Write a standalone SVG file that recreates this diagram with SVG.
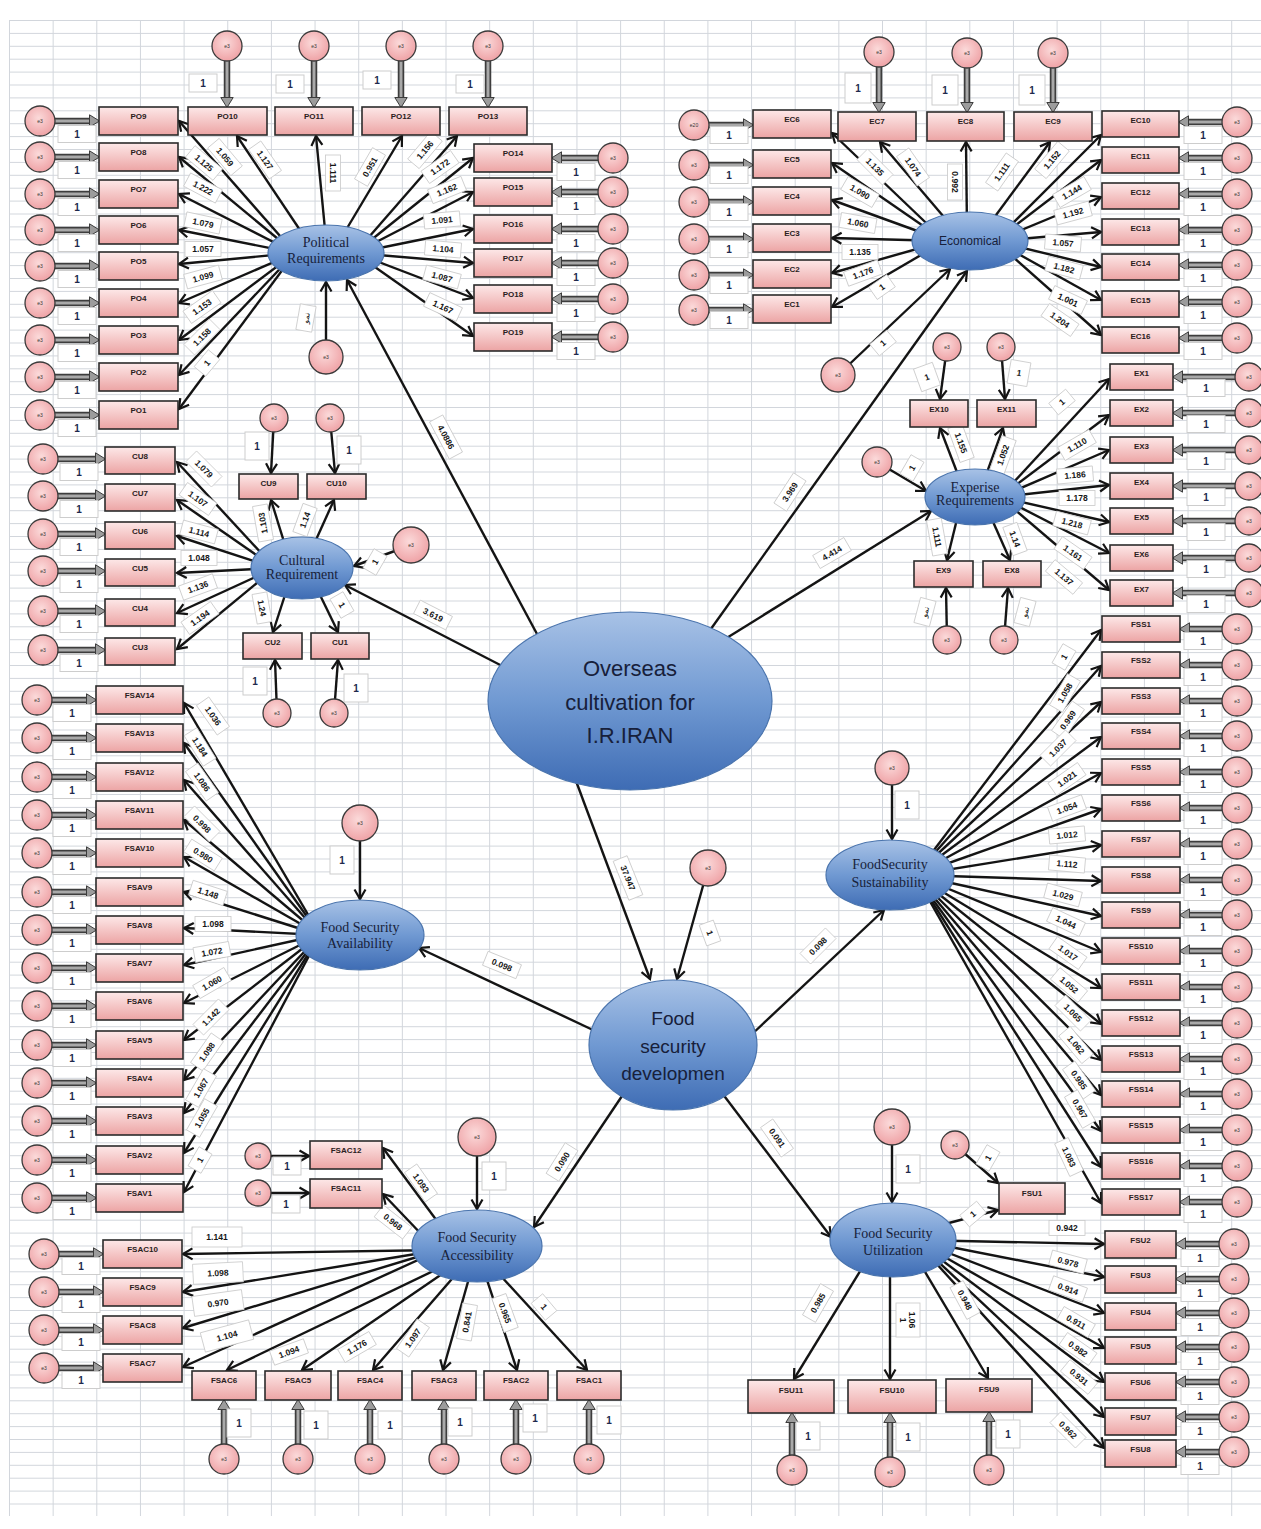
<svg xmlns="http://www.w3.org/2000/svg" width="1261" height="1529" viewBox="0 0 1261 1529">
<defs>
<pattern id="gp" x="9" y="20" width="43.65" height="12.9" patternUnits="userSpaceOnUse"><path d="M0.5 0V12.9M0 0.5H43.65" fill="none" stroke="#d2d6dc" stroke-width="1"/></pattern>
<linearGradient id="pk" x1="0" y1="0" x2="0" y2="1"><stop offset="0" stop-color="#fde8e8"/><stop offset="1" stop-color="#eca4a4"/></linearGradient>
<radialGradient id="pc" cx="0.45" cy="0.4" r="0.65"><stop offset="0" stop-color="#fbdada"/><stop offset="1" stop-color="#ee9ea2"/></radialGradient>
<linearGradient id="bl" x1="0" y1="0" x2="0" y2="1"><stop offset="0" stop-color="#a8c2e6"/><stop offset="0.5" stop-color="#7099d2"/><stop offset="1" stop-color="#3e6cb4"/></linearGradient>
<marker id="ah" markerUnits="userSpaceOnUse" markerWidth="14" markerHeight="14" refX="11" refY="7" orient="auto"><path d="M1.5 1.5L11 7L1.5 12.5" fill="none" stroke="#141414" stroke-width="2.2"/></marker>
<marker id="gh" markerUnits="userSpaceOnUse" markerWidth="12" markerHeight="14" refX="3" refY="7" orient="auto"><path d="M0.5 0.8L10.5 7L0.5 13.2z" fill="#9c9c9c" stroke="#3c3c3c" stroke-width="1"/></marker>
<g id="o"><rect class="ob" x="-19" y="-8.5" width="38" height="17"/><text class="ot" y="4">1</text></g>
<g id="os"><rect class="ob" x="-14" y="-9" width="28" height="18"/><text class="ot" y="4">1</text></g>
<g id="ot"><rect class="ob" x="-13" y="-15" width="26" height="30"/><text class="ot" y="4">1</text></g>
<g id="ov"><rect class="ob" x="-12" y="-14" width="24" height="28"/><text class="ot" y="4">1</text></g>
</defs>
<style>
.a{fill:none;stroke:#141414;stroke-width:2.4;marker-end:url(#ah)}
.g1{fill:none;stroke:#3d3d3d;stroke-width:6.5}
.g2{fill:none;stroke:#a9a9a9;stroke-width:3;marker-end:url(#gh)}
.b{fill:url(#pk);stroke:#2b2b2b;stroke-width:1.6}
.bt{font-family:"Liberation Sans",Arial,sans-serif;font-size:8px;font-weight:bold;fill:#2a2020;text-anchor:middle}
.c{fill:url(#pc);stroke:#3a3a3a;stroke-width:1.3}
.ct{font-family:"Liberation Sans",Arial,sans-serif;font-size:5px;fill:#333;text-anchor:middle}
.ob{fill:#fff;stroke:#cdcdcd;stroke-width:1}
.ot{font-family:"Liberation Sans",Arial,sans-serif;font-size:10px;font-weight:bold;fill:#1d2a4d;text-anchor:middle}
.cl rect{fill:#fff;stroke:#c9c9c9;stroke-width:.8}
.cl text{font-family:"Liberation Sans",Arial,sans-serif;font-size:8.5px;font-weight:bold;fill:#161616;text-anchor:middle}
.cl text.ar{font-family:"DejaVu Sans",sans-serif;font-size:8px;font-weight:normal}
.e{fill:url(#bl);stroke:#4a74ad;stroke-width:1.2}
.es{font-family:"Liberation Serif","Times New Roman",serif;font-size:14px;fill:#18223a;text-anchor:middle}
.ec{font-family:"Liberation Sans",Arial,sans-serif;fill:#17203a;text-anchor:middle}
</style>
<rect width="1261" height="1529" fill="#fff"/>
<rect x="9" y="20" width="1252" height="1496" fill="url(#gp)"/>

<g id="connectors">
<g id="paths" class="a">
<path d="M295 253L179 121"/><path d="M295 253L179 157"/><path d="M295 253L179 194"/><path d="M295 253L179 230"/><path d="M295 253L179 264"/><path d="M295 253L179 303"/><path d="M295 253L179 340"/><path d="M295 253L179 375"/><path d="M295 253L179 409"/>
<path d="M310 245L237 136"/><path d="M326 240L316 136"/><path d="M340 240L402 136"/>
<path d="M355 253L457 136"/><path d="M355 253L473 158"/><path d="M355 253L473 192"/><path d="M355 253L473 229"/><path d="M355 253L473 263"/><path d="M355 253L473 298"/><path d="M355 253L473 336"/>
<path d="M326 357L326 282"/>
<path d="M544 647L347 280"/>
<path d="M945 241L832 133"/><path d="M945 241L832 163"/><path d="M945 241L832 200"/><path d="M945 241L832 238"/><path d="M945 241L832 273"/><path d="M945 241L832 307"/>
<path d="M955 230L880 142"/><path d="M967 230L966 142"/><path d="M985 230L1050 142"/>
<path d="M995 241L1101 135"/><path d="M995 241L1101 160"/><path d="M995 241L1101 197"/><path d="M995 241L1101 232"/><path d="M995 241L1101 267"/><path d="M995 241L1101 300"/><path d="M995 241L1101 335"/>
<path d="M838 375L950 269"/>
<path d="M703 640L967 271"/>
<path d="M1000 497L1109 379"/><path d="M1000 497L1109 415"/><path d="M1000 497L1109 450"/><path d="M1000 497L1109 485"/><path d="M1000 497L1109 522"/><path d="M1000 497L1109 553"/><path d="M1000 497L1109 590"/>
<path d="M960 480L940 428"/><path d="M985 478L1003 428"/><path d="M958 515L947 560"/><path d="M990 515L1010 560"/>
<path d="M947 347L940 399"/><path d="M1001 347L1005 399"/><path d="M947 640L946 588"/><path d="M1004 640L1008 588"/>
<path d="M877 462L926 491"/>
<path d="M717 644L931 511"/>
<path d="M275 568L177 462"/><path d="M275 568L177 500"/><path d="M275 568L177 536"/><path d="M275 568L177 573"/><path d="M275 568L177 613"/><path d="M275 568L177 649"/>
<path d="M285 545L271 500"/><path d="M315 542L334 500"/><path d="M285 595L273 632"/><path d="M320 595L338 632"/>
<path d="M274 418L271 473"/><path d="M330 418L335 473"/><path d="M277 713L275 660"/><path d="M334 713L338 660"/>
<path d="M411 545L354 566"/>
<path d="M510 670L345 585"/>
<path d="M320 935L184 703"/><path d="M320 935L184 743"/><path d="M320 935L184 780"/><path d="M320 935L184 820"/><path d="M320 935L184 857"/><path d="M320 935L184 892"/><path d="M320 935L184 928"/><path d="M320 935L184 965"/><path d="M320 935L184 1003"/><path d="M320 935L184 1040"/><path d="M320 935L184 1080"/><path d="M320 935L184 1113"/><path d="M320 935L184 1153"/><path d="M320 935L184 1192"/>
<path d="M360 823L360 899"/>
<path d="M593 1030L419 948"/>
<path d="M915 875L1101 630"/><path d="M915 875L1101 666"/><path d="M915 875L1101 702"/><path d="M915 875L1101 737"/><path d="M915 875L1101 773"/><path d="M915 875L1101 809"/><path d="M915 875L1101 845"/><path d="M915 875L1101 881"/><path d="M915 875L1101 916"/><path d="M915 875L1101 952"/><path d="M915 875L1101 988"/><path d="M915 875L1101 1024"/><path d="M915 875L1101 1060"/><path d="M915 875L1101 1095"/><path d="M915 875L1101 1131"/><path d="M915 875L1101 1167"/><path d="M915 875L1101 1203"/>
<path d="M892 768L892 839"/>
<path d="M750 1036L884 910"/>
<path d="M258 1156L309 1156"/><path d="M258 1193L309 1193"/>
<path d="M440 1225L383 1148"/><path d="M425 1238L383 1194"/>
<path d="M440 1250L183 1254"/><path d="M440 1250L183 1292"/><path d="M440 1250L183 1328"/><path d="M440 1250L183 1367"/>
<path d="M477 1250L227 1370"/><path d="M477 1250L302 1370"/><path d="M477 1250L373 1370"/><path d="M477 1250L443 1370"/><path d="M477 1250L517 1370"/><path d="M477 1250L587 1370"/>
<path d="M477 1137L477 1209"/>
<path d="M622 1096L534 1227"/>
<path d="M955 1145L998 1183"/><path d="M930 1228L998 1210"/>
<path d="M915 1240L1104 1244"/><path d="M915 1240L1104 1277"/><path d="M915 1240L1104 1313"/><path d="M915 1240L1104 1348"/><path d="M915 1240L1104 1382"/><path d="M915 1240L1104 1417"/><path d="M915 1240L1104 1448"/>
<path d="M870 1255L794 1379"/><path d="M890 1260L890 1379"/><path d="M915 1255L988 1378"/>
<path d="M892 1127L892 1202"/>
<path d="M722 1093L831 1237"/>
<path d="M708 868L677 979"/>
<path d="M573 773L650 979"/>
</g>
<g id="error-arrows-outer" class="g1">
<path d="M40 121H92"/><path d="M40 157H92"/><path d="M40 194H92"/><path d="M40 230H92"/><path d="M40 266H92"/><path d="M40 303H92"/><path d="M40 340H92"/><path d="M40 377H92"/><path d="M40 415H92"/>
<path d="M227 46V100"/><path d="M314 46V100"/><path d="M401 46V100"/><path d="M488 46V100"/>
<path d="M613 158H559"/><path d="M613 192H559"/><path d="M613 229H559"/><path d="M613 263H559"/><path d="M613 299H559"/><path d="M613 337H559"/>
<path d="M694 125H746"/><path d="M694 165H746"/><path d="M694 202H746"/><path d="M694 239H746"/><path d="M694 275H746"/><path d="M694 310H746"/>
<path d="M879 52V105"/><path d="M967 53V105"/><path d="M1053 53V105"/>
<path d="M1237 122H1186"/><path d="M1237 158H1186"/><path d="M1237 194H1186"/><path d="M1237 230H1186"/><path d="M1237 265H1186"/><path d="M1237 302H1186"/><path d="M1237 338H1186"/>
<path d="M1249 377H1180"/><path d="M1249 413H1180"/><path d="M1249 450H1180"/><path d="M1249 486H1180"/><path d="M1249 521H1180"/><path d="M1249 558H1180"/><path d="M1249 593H1180"/>
<path d="M43 459H98"/><path d="M43 496H98"/><path d="M43 534H98"/><path d="M43 571H98"/><path d="M43 611H98"/><path d="M43 650H98"/>
<path d="M37 700H89"/><path d="M37 738H89"/><path d="M37 777H89"/><path d="M37 815H89"/><path d="M37 853H89"/><path d="M37 892H89"/><path d="M37 930H89"/><path d="M37 968H89"/><path d="M37 1006H89"/><path d="M37 1045H89"/><path d="M37 1083H89"/><path d="M37 1121H89"/><path d="M37 1160H89"/><path d="M37 1198H89"/>
<path d="M1237 629H1187"/><path d="M1237 665H1187"/><path d="M1237 701H1187"/><path d="M1237 736H1187"/><path d="M1237 772H1187"/><path d="M1237 808H1187"/><path d="M1237 844H1187"/><path d="M1237 880H1187"/><path d="M1237 915H1187"/><path d="M1237 951H1187"/><path d="M1237 987H1187"/><path d="M1237 1023H1187"/><path d="M1237 1059H1187"/><path d="M1237 1094H1187"/><path d="M1237 1130H1187"/><path d="M1237 1166H1187"/><path d="M1237 1202H1187"/>
<path d="M44 1254H96"/><path d="M44 1292H96"/><path d="M44 1330H96"/><path d="M44 1368H96"/>
<path d="M224 1459V1407"/><path d="M298 1459V1407"/><path d="M370 1459V1407"/><path d="M444 1459V1407"/><path d="M516 1459V1407"/><path d="M589 1459V1407"/>
<path d="M1234 1244H1183"/><path d="M1234 1279H1183"/><path d="M1234 1313H1183"/><path d="M1234 1347H1183"/><path d="M1234 1382H1183"/><path d="M1234 1417H1183"/><path d="M1234 1452H1183"/>
<path d="M792 1470V1420"/><path d="M890 1472V1420"/><path d="M989 1470V1419"/>
</g>
<g id="error-arrows-inner" class="g2">
<path d="M40 121H92"/><path d="M40 157H92"/><path d="M40 194H92"/><path d="M40 230H92"/><path d="M40 266H92"/><path d="M40 303H92"/><path d="M40 340H92"/><path d="M40 377H92"/><path d="M40 415H92"/>
<path d="M227 46V100"/><path d="M314 46V100"/><path d="M401 46V100"/><path d="M488 46V100"/>
<path d="M613 158H559"/><path d="M613 192H559"/><path d="M613 229H559"/><path d="M613 263H559"/><path d="M613 299H559"/><path d="M613 337H559"/>
<path d="M694 125H746"/><path d="M694 165H746"/><path d="M694 202H746"/><path d="M694 239H746"/><path d="M694 275H746"/><path d="M694 310H746"/>
<path d="M879 52V105"/><path d="M967 53V105"/><path d="M1053 53V105"/>
<path d="M1237 122H1186"/><path d="M1237 158H1186"/><path d="M1237 194H1186"/><path d="M1237 230H1186"/><path d="M1237 265H1186"/><path d="M1237 302H1186"/><path d="M1237 338H1186"/>
<path d="M1249 377H1180"/><path d="M1249 413H1180"/><path d="M1249 450H1180"/><path d="M1249 486H1180"/><path d="M1249 521H1180"/><path d="M1249 558H1180"/><path d="M1249 593H1180"/>
<path d="M43 459H98"/><path d="M43 496H98"/><path d="M43 534H98"/><path d="M43 571H98"/><path d="M43 611H98"/><path d="M43 650H98"/>
<path d="M37 700H89"/><path d="M37 738H89"/><path d="M37 777H89"/><path d="M37 815H89"/><path d="M37 853H89"/><path d="M37 892H89"/><path d="M37 930H89"/><path d="M37 968H89"/><path d="M37 1006H89"/><path d="M37 1045H89"/><path d="M37 1083H89"/><path d="M37 1121H89"/><path d="M37 1160H89"/><path d="M37 1198H89"/>
<path d="M1237 629H1187"/><path d="M1237 665H1187"/><path d="M1237 701H1187"/><path d="M1237 736H1187"/><path d="M1237 772H1187"/><path d="M1237 808H1187"/><path d="M1237 844H1187"/><path d="M1237 880H1187"/><path d="M1237 915H1187"/><path d="M1237 951H1187"/><path d="M1237 987H1187"/><path d="M1237 1023H1187"/><path d="M1237 1059H1187"/><path d="M1237 1094H1187"/><path d="M1237 1130H1187"/><path d="M1237 1166H1187"/><path d="M1237 1202H1187"/>
<path d="M44 1254H96"/><path d="M44 1292H96"/><path d="M44 1330H96"/><path d="M44 1368H96"/>
<path d="M224 1459V1407"/><path d="M298 1459V1407"/><path d="M370 1459V1407"/><path d="M444 1459V1407"/><path d="M516 1459V1407"/><path d="M589 1459V1407"/>
<path d="M1234 1244H1183"/><path d="M1234 1279H1183"/><path d="M1234 1313H1183"/><path d="M1234 1347H1183"/><path d="M1234 1382H1183"/><path d="M1234 1417H1183"/><path d="M1234 1452H1183"/>
<path d="M792 1470V1420"/><path d="M890 1472V1420"/><path d="M989 1470V1419"/>
</g>
<g id="fixed-loadings">
<use href="#o" x="77" y="134"/><use href="#o" x="77" y="170"/><use href="#o" x="77" y="207"/><use href="#o" x="77" y="243"/><use href="#o" x="77" y="279"/><use href="#o" x="77" y="316"/><use href="#o" x="77" y="353"/><use href="#o" x="77" y="390"/><use href="#o" x="77" y="428"/>
<use href="#os" x="203" y="83"/><use href="#os" x="290" y="84"/><use href="#os" x="377" y="80"/><use href="#os" x="470" y="84"/>
<use href="#o" x="576" y="172"/><use href="#o" x="576" y="206"/><use href="#o" x="576" y="243"/><use href="#o" x="576" y="277"/><use href="#o" x="576" y="313"/><use href="#o" x="576" y="351"/>
<use href="#o" x="729" y="135"/><use href="#o" x="729" y="175"/><use href="#o" x="729" y="212"/><use href="#o" x="729" y="249"/><use href="#o" x="729" y="285"/><use href="#o" x="729" y="320"/>
<use href="#ot" x="858" y="88"/><use href="#ot" x="945" y="90"/><use href="#ot" x="1032" y="90"/>
<use href="#o" x="1203" y="135"/><use href="#o" x="1203" y="171"/><use href="#o" x="1203" y="207"/><use href="#o" x="1203" y="243"/><use href="#o" x="1203" y="278"/><use href="#o" x="1203" y="315"/><use href="#o" x="1203" y="351"/>
<use href="#o" x="1206" y="388"/><use href="#o" x="1206" y="424"/><use href="#o" x="1206" y="461"/><use href="#o" x="1206" y="497"/><use href="#o" x="1206" y="532"/><use href="#o" x="1206" y="569"/><use href="#o" x="1206" y="604"/>
<use href="#o" x="79" y="472"/><use href="#o" x="79" y="509"/><use href="#o" x="79" y="547"/><use href="#o" x="79" y="584"/><use href="#o" x="79" y="624"/><use href="#o" x="79" y="663"/>
<use href="#ov" x="257" y="446"/><use href="#ov" x="349" y="450"/><use href="#ov" x="255" y="681"/><use href="#ov" x="356" y="688"/>
<use href="#o" x="72" y="713"/><use href="#o" x="72" y="751"/><use href="#o" x="72" y="790"/><use href="#o" x="72" y="828"/><use href="#o" x="72" y="866"/><use href="#o" x="72" y="905"/><use href="#o" x="72" y="943"/><use href="#o" x="72" y="981"/><use href="#o" x="72" y="1019"/><use href="#o" x="72" y="1058"/><use href="#o" x="72" y="1096"/><use href="#o" x="72" y="1134"/><use href="#o" x="72" y="1173"/><use href="#o" x="72" y="1211"/>
<use href="#ov" x="342" y="860"/>
<use href="#o" x="1203" y="641"/><use href="#o" x="1203" y="677"/><use href="#o" x="1203" y="713"/><use href="#o" x="1203" y="748"/><use href="#o" x="1203" y="784"/><use href="#o" x="1203" y="820"/><use href="#o" x="1203" y="856"/><use href="#o" x="1203" y="892"/><use href="#o" x="1203" y="927"/><use href="#o" x="1203" y="963"/><use href="#o" x="1203" y="999"/><use href="#o" x="1203" y="1035"/><use href="#o" x="1203" y="1071"/><use href="#o" x="1203" y="1106"/><use href="#o" x="1203" y="1142"/><use href="#o" x="1203" y="1178"/><use href="#o" x="1203" y="1214"/>
<use href="#ov" x="907" y="805"/>
<use href="#os" x="287" y="1166"/><use href="#os" x="286" y="1204"/>
<use href="#o" x="81" y="1266"/><use href="#o" x="81" y="1304"/><use href="#o" x="81" y="1342"/><use href="#o" x="81" y="1380"/>
<use href="#ov" x="239" y="1423"/><use href="#ov" x="316" y="1425"/><use href="#ov" x="390" y="1425"/><use href="#ov" x="460" y="1422"/><use href="#ov" x="535" y="1418"/><use href="#ov" x="609" y="1420"/>
<use href="#ov" x="494" y="1176"/>
<use href="#o" x="1200" y="1258"/><use href="#o" x="1200" y="1293"/><use href="#o" x="1200" y="1327"/><use href="#o" x="1200" y="1361"/><use href="#o" x="1200" y="1396"/><use href="#o" x="1200" y="1431"/><use href="#o" x="1200" y="1466"/>
<use href="#ov" x="808" y="1436"/><use href="#ov" x="908" y="1437"/><use href="#ov" x="1008" y="1434"/>
<use href="#ov" x="908" y="1169"/>
</g>
<g id="coefficients" class="cl">
<g transform="translate(225 157) rotate(50)"><rect x="-18" y="-7.5" width="36" height="15"/><text y="3">1.059</text></g>
<g transform="translate(204 163) rotate(40)"><rect x="-18" y="-7.5" width="36" height="15"/><text y="3">1.125</text></g>
<g transform="translate(265 160) rotate(55)"><rect x="-18" y="-7.5" width="36" height="15"/><text y="3">1.127</text></g>
<g transform="translate(203 188) rotate(28)"><rect x="-18" y="-7.5" width="36" height="15"/><text y="3">1.222</text></g>
<g transform="translate(203 223) rotate(12)"><rect x="-18" y="-7.5" width="36" height="15"/><text y="3">1.079</text></g>
<g transform="translate(203 249)"><rect x="-18" y="-7.5" width="36" height="15"/><text y="3">1.057</text></g>
<g transform="translate(203 277) rotate(-15)"><rect x="-18" y="-7.5" width="36" height="15"/><text y="3">1.099</text></g>
<g transform="translate(202 307) rotate(-35)"><rect x="-18" y="-7.5" width="36" height="15"/><text y="3">1.153</text></g>
<g transform="translate(202 337) rotate(-45)"><rect x="-18" y="-7.5" width="36" height="15"/><text y="3">1.158</text></g>
<g transform="translate(207 363) rotate(-50)"><rect x="-11" y="-7.5" width="22" height="15"/><text y="3">1</text></g>
<g transform="translate(333 173) rotate(90)"><rect x="-18" y="-7.5" width="36" height="15"/><text y="3">1.111</text></g>
<g transform="translate(370 167) rotate(-60)"><rect x="-18" y="-7.5" width="36" height="15"/><text y="3">0.951</text></g>
<g transform="translate(425 150) rotate(-50)"><rect x="-18" y="-7.5" width="36" height="15"/><text y="3">1.156</text></g>
<g transform="translate(440 167) rotate(-35)"><rect x="-18" y="-7.5" width="36" height="15"/><text y="3">1.172</text></g>
<g transform="translate(447 190) rotate(-22)"><rect x="-18" y="-7.5" width="36" height="15"/><text y="3">1.162</text></g>
<g transform="translate(442 220) rotate(-5)"><rect x="-18" y="-7.5" width="36" height="15"/><text y="3">1.091</text></g>
<g transform="translate(443 249) rotate(5)"><rect x="-18" y="-7.5" width="36" height="15"/><text y="3">1.104</text></g>
<g transform="translate(442 277) rotate(15)"><rect x="-18" y="-7.5" width="36" height="15"/><text y="3">1.087</text></g>
<g transform="translate(443 307) rotate(25)"><rect x="-18" y="-7.5" width="36" height="15"/><text y="3">1.167</text></g>
<g transform="translate(306 318) rotate(-80)"><rect x="-13" y="-8" width="26" height="16"/><text class="ar" y="3">نمو</text></g>
<g transform="translate(446 437) rotate(62)"><rect x="-21" y="-7.5" width="42" height="15"/><text y="3">4.0886</text></g>
<g transform="translate(433 615) rotate(27)"><rect x="-18" y="-7.5" width="36" height="15"/><text y="3">3.619</text></g>
<g transform="translate(875 167) rotate(45)"><rect x="-18" y="-7.5" width="36" height="15"/><text y="3">1.135</text></g>
<g transform="translate(913 167) rotate(55)"><rect x="-18" y="-7.5" width="36" height="15"/><text y="3">1.074</text></g>
<g transform="translate(860 192) rotate(30)"><rect x="-18" y="-7.5" width="36" height="15"/><text y="3">1.090</text></g>
<g transform="translate(858 223) rotate(10)"><rect x="-18" y="-7.5" width="36" height="15"/><text y="3">1.060</text></g>
<g transform="translate(860 252)"><rect x="-18" y="-7.5" width="36" height="15"/><text y="3">1.135</text></g>
<g transform="translate(863 273) rotate(-20)"><rect x="-18" y="-7.5" width="36" height="15"/><text y="3">1.176</text></g>
<g transform="translate(882 287) rotate(-35)"><rect x="-11" y="-7.5" width="22" height="15"/><text y="3">1</text></g>
<g transform="translate(955 182) rotate(90)"><rect x="-18" y="-7.5" width="36" height="15"/><text y="3">0.992</text></g>
<g transform="translate(1002 172) rotate(-55)"><rect x="-18" y="-7.5" width="36" height="15"/><text y="3">1.111</text></g>
<g transform="translate(1052 160) rotate(-50)"><rect x="-18" y="-7.5" width="36" height="15"/><text y="3">1.152</text></g>
<g transform="translate(1072 192) rotate(-30)"><rect x="-18" y="-7.5" width="36" height="15"/><text y="3">1.144</text></g>
<g transform="translate(1073 213) rotate(-15)"><rect x="-18" y="-7.5" width="36" height="15"/><text y="3">1.192</text></g>
<g transform="translate(1063 243) rotate(5)"><rect x="-18" y="-7.5" width="36" height="15"/><text y="3">1.057</text></g>
<g transform="translate(1064 268) rotate(15)"><rect x="-18" y="-7.5" width="36" height="15"/><text y="3">1.182</text></g>
<g transform="translate(1068 300) rotate(25)"><rect x="-18" y="-7.5" width="36" height="15"/><text y="3">1.001</text></g>
<g transform="translate(1060 320) rotate(35)"><rect x="-18" y="-7.5" width="36" height="15"/><text y="3">1.204</text></g>
<g transform="translate(883 343) rotate(-40)"><rect x="-11" y="-7.5" width="22" height="15"/><text y="3">1</text></g>
<g transform="translate(790 492) rotate(-57)"><rect x="-18" y="-7.5" width="36" height="15"/><text y="3">3.969</text></g>
<g transform="translate(1062 402) rotate(-40)"><rect x="-11" y="-7.5" width="22" height="15"/><text y="3">1</text></g>
<g transform="translate(1077 445) rotate(-30)"><rect x="-18" y="-7.5" width="36" height="15"/><text y="3">1.110</text></g>
<g transform="translate(1075 475) rotate(-5)"><rect x="-18" y="-7.5" width="36" height="15"/><text y="3">1.186</text></g>
<g transform="translate(1077 498)"><rect x="-18" y="-7.5" width="36" height="15"/><text y="3">1.178</text></g>
<g transform="translate(1072 523) rotate(15)"><rect x="-18" y="-7.5" width="36" height="15"/><text y="3">1.218</text></g>
<g transform="translate(1073 553) rotate(35)"><rect x="-18" y="-7.5" width="36" height="15"/><text y="3">1.161</text></g>
<g transform="translate(1064 577) rotate(40)"><rect x="-18" y="-7.5" width="36" height="15"/><text y="3">1.137</text></g>
<g transform="translate(961 443) rotate(70)"><rect x="-18" y="-7.5" width="36" height="15"/><text y="3">1.155</text></g>
<g transform="translate(1003 455) rotate(-70)"><rect x="-18" y="-7.5" width="36" height="15"/><text y="3">1.052</text></g>
<g transform="translate(937 537) rotate(80)"><rect x="-18" y="-7.5" width="36" height="15"/><text y="3">1.111</text></g>
<g transform="translate(1015 539) rotate(70)"><rect x="-15" y="-7.5" width="30" height="15"/><text y="3">1.14</text></g>
<g transform="translate(925 612) rotate(-75)"><rect x="-13" y="-8" width="26" height="16"/><text class="ar" y="3">نمو</text></g>
<g transform="translate(1025 612) rotate(-75)"><rect x="-13" y="-8" width="26" height="16"/><text class="ar" y="3">نمو</text></g>
<g transform="translate(927 377) rotate(-20)"><rect x="-10" y="-12" width="20" height="24"/><text y="3">1</text></g>
<g transform="translate(1019 373) rotate(10)"><rect x="-10" y="-12" width="20" height="24"/><text y="3">1</text></g>
<g transform="translate(912 468) rotate(-60)"><rect x="-11" y="-7.5" width="22" height="15"/><text y="3">1</text></g>
<g transform="translate(832 553) rotate(-30)"><rect x="-18" y="-7.5" width="36" height="15"/><text y="3">4.414</text></g>
<g transform="translate(204 469) rotate(45)"><rect x="-18" y="-7.5" width="36" height="15"/><text y="3">1.079</text></g>
<g transform="translate(198 499) rotate(35)"><rect x="-18" y="-7.5" width="36" height="15"/><text y="3">1.107</text></g>
<g transform="translate(199 532) rotate(15)"><rect x="-18" y="-7.5" width="36" height="15"/><text y="3">1.114</text></g>
<g transform="translate(199 558)"><rect x="-18" y="-7.5" width="36" height="15"/><text y="3">1.048</text></g>
<g transform="translate(198 587) rotate(-20)"><rect x="-18" y="-7.5" width="36" height="15"/><text y="3">1.136</text></g>
<g transform="translate(200 618) rotate(-35)"><rect x="-18" y="-7.5" width="36" height="15"/><text y="3">1.194</text></g>
<g transform="translate(263 523) rotate(-100)"><rect x="-18" y="-7.5" width="36" height="15"/><text y="3">1.103</text></g>
<g transform="translate(305 520) rotate(-70)"><rect x="-15" y="-7.5" width="30" height="15"/><text y="3">1.14</text></g>
<g transform="translate(262 608) rotate(80)"><rect x="-15" y="-7.5" width="30" height="15"/><text y="3">1.24</text></g>
<g transform="translate(342 605) rotate(60)"><rect x="-11" y="-7.5" width="22" height="15"/><text y="3">1</text></g>
<g transform="translate(375 562) rotate(-60)"><rect x="-11" y="-7.5" width="22" height="15"/><text y="3">1</text></g>
<g transform="translate(213 716) rotate(55)"><rect x="-18" y="-7.5" width="36" height="15"/><text y="3">1.036</text></g>
<g transform="translate(200 747) rotate(58)"><rect x="-18" y="-7.5" width="36" height="15"/><text y="3">1.184</text></g>
<g transform="translate(202 782) rotate(55)"><rect x="-18" y="-7.5" width="36" height="15"/><text y="3">1.086</text></g>
<g transform="translate(202 824) rotate(45)"><rect x="-18" y="-7.5" width="36" height="15"/><text y="3">0.998</text></g>
<g transform="translate(203 855) rotate(32)"><rect x="-18" y="-7.5" width="36" height="15"/><text y="3">0.980</text></g>
<g transform="translate(208 893) rotate(18)"><rect x="-18" y="-7.5" width="36" height="15"/><text y="3">1.148</text></g>
<g transform="translate(213 924)"><rect x="-18" y="-7.5" width="36" height="15"/><text y="3">1.098</text></g>
<g transform="translate(212 952) rotate(-10)"><rect x="-18" y="-7.5" width="36" height="15"/><text y="3">1.072</text></g>
<g transform="translate(212 983) rotate(-30)"><rect x="-18" y="-7.5" width="36" height="15"/><text y="3">1.060</text></g>
<g transform="translate(211 1017) rotate(-45)"><rect x="-18" y="-7.5" width="36" height="15"/><text y="3">1.142</text></g>
<g transform="translate(207 1052) rotate(-55)"><rect x="-18" y="-7.5" width="36" height="15"/><text y="3">1.098</text></g>
<g transform="translate(201 1088) rotate(-60)"><rect x="-18" y="-7.5" width="36" height="15"/><text y="3">1.067</text></g>
<g transform="translate(202 1118) rotate(-60)"><rect x="-18" y="-7.5" width="36" height="15"/><text y="3">1.055</text></g>
<g transform="translate(200 1160) rotate(-60)"><rect x="-11" y="-7.5" width="22" height="15"/><text y="3">1</text></g>
<g transform="translate(502 965) rotate(22)"><rect x="-18" y="-7.5" width="36" height="15"/><text y="3">0.098</text></g>
<g transform="translate(1064 657) rotate(-60)"><rect x="-11" y="-7.5" width="22" height="15"/><text y="3">1</text></g>
<g transform="translate(1065 693) rotate(-60)"><rect x="-18" y="-7.5" width="36" height="15"/><text y="3">1.058</text></g>
<g transform="translate(1068 720) rotate(-55)"><rect x="-18" y="-7.5" width="36" height="15"/><text y="3">0.969</text></g>
<g transform="translate(1058 748) rotate(-45)"><rect x="-18" y="-7.5" width="36" height="15"/><text y="3">1.037</text></g>
<g transform="translate(1067 779) rotate(-35)"><rect x="-18" y="-7.5" width="36" height="15"/><text y="3">1.021</text></g>
<g transform="translate(1067 808) rotate(-20)"><rect x="-18" y="-7.5" width="36" height="15"/><text y="3">1.054</text></g>
<g transform="translate(1067 835) rotate(-5)"><rect x="-18" y="-7.5" width="36" height="15"/><text y="3">1.012</text></g>
<g transform="translate(1067 864) rotate(5)"><rect x="-18" y="-7.5" width="36" height="15"/><text y="3">1.112</text></g>
<g transform="translate(1063 895) rotate(15)"><rect x="-18" y="-7.5" width="36" height="15"/><text y="3">1.029</text></g>
<g transform="translate(1066 922) rotate(25)"><rect x="-18" y="-7.5" width="36" height="15"/><text y="3">1.044</text></g>
<g transform="translate(1068 953) rotate(35)"><rect x="-18" y="-7.5" width="36" height="15"/><text y="3">1.017</text></g>
<g transform="translate(1069 985) rotate(40)"><rect x="-18" y="-7.5" width="36" height="15"/><text y="3">1.052</text></g>
<g transform="translate(1073 1013) rotate(45)"><rect x="-18" y="-7.5" width="36" height="15"/><text y="3">1.065</text></g>
<g transform="translate(1076 1045) rotate(50)"><rect x="-18" y="-7.5" width="36" height="15"/><text y="3">1.062</text></g>
<g transform="translate(1079 1080) rotate(55)"><rect x="-18" y="-7.5" width="36" height="15"/><text y="3">0.985</text></g>
<g transform="translate(1080 1109) rotate(60)"><rect x="-18" y="-7.5" width="36" height="15"/><text y="3">0.967</text></g>
<g transform="translate(1069 1157) rotate(65)"><rect x="-18" y="-7.5" width="36" height="15"/><text y="3">1.083</text></g>
<g transform="translate(818 946) rotate(-45)"><rect x="-18" y="-7.5" width="36" height="15"/><text y="3">0.098</text></g>
<g transform="translate(421 1183) rotate(55)"><rect x="-18" y="-7.5" width="36" height="15"/><text y="3">1.093</text></g>
<g transform="translate(393 1222) rotate(38)"><rect x="-18" y="-7.5" width="36" height="15"/><text y="3">0.968</text></g>
<g transform="translate(217 1237)"><rect x="-25" y="-10" width="50" height="20"/><text y="3">1.141</text></g>
<g transform="translate(218 1273) rotate(-3)"><rect x="-25" y="-10" width="50" height="20"/><text y="3">1.098</text></g>
<g transform="translate(218 1303) rotate(-8)"><rect x="-25" y="-10" width="50" height="20"/><text y="3">0.970</text></g>
<g transform="translate(227 1336) rotate(-15)"><rect x="-25" y="-10" width="50" height="20"/><text y="3">1.104</text></g>
<g transform="translate(289 1352) rotate(-20)"><rect x="-18" y="-7.5" width="36" height="15"/><text y="3">1.094</text></g>
<g transform="translate(357 1347) rotate(-30)"><rect x="-18" y="-7.5" width="36" height="15"/><text y="3">1.176</text></g>
<g transform="translate(413 1338) rotate(-55)"><rect x="-18" y="-7.5" width="36" height="15"/><text y="3">1.097</text></g>
<g transform="translate(467 1322) rotate(-80)"><rect x="-18" y="-7.5" width="36" height="15"/><text y="3">0.841</text></g>
<g transform="translate(505 1313) rotate(70)"><rect x="-18" y="-7.5" width="36" height="15"/><text y="3">0.965</text></g>
<g transform="translate(544 1307) rotate(50)"><rect x="-11" y="-7.5" width="22" height="15"/><text y="3">1</text></g>
<g transform="translate(562 1162) rotate(-58)"><rect x="-18" y="-7.5" width="36" height="15"/><text y="3">0.090</text></g>
<g transform="translate(988 1158) rotate(-60)"><rect x="-11" y="-7.5" width="22" height="15"/><text y="3">1</text></g>
<g transform="translate(973 1214) rotate(-40)"><rect x="-11" y="-7.5" width="22" height="15"/><text y="3">1</text></g>
<g transform="translate(1067 1228)"><rect x="-18" y="-7.5" width="36" height="15"/><text y="3">0.942</text></g>
<g transform="translate(1068 1262) rotate(15)"><rect x="-18" y="-7.5" width="36" height="15"/><text y="3">0.978</text></g>
<g transform="translate(1068 1289) rotate(20)"><rect x="-18" y="-7.5" width="36" height="15"/><text y="3">0.914</text></g>
<g transform="translate(1076 1322) rotate(30)"><rect x="-18" y="-7.5" width="36" height="15"/><text y="3">0.911</text></g>
<g transform="translate(1078 1349) rotate(35)"><rect x="-18" y="-7.5" width="36" height="15"/><text y="3">0.982</text></g>
<g transform="translate(1079 1377) rotate(40)"><rect x="-18" y="-7.5" width="36" height="15"/><text y="3">0.931</text></g>
<g transform="translate(1068 1430) rotate(45)"><rect x="-18" y="-7.5" width="36" height="15"/><text y="3">0.962</text></g>
<g transform="translate(818 1303) rotate(-60)"><rect x="-18" y="-7.5" width="36" height="15"/><text y="3">0.985</text></g>
<g transform="translate(908 1320) rotate(90)"><rect x="-17" y="-12" width="34" height="24"/><text y="-1">1.06</text><text y="8">1</text></g>
<g transform="translate(965 1300) rotate(62)"><rect x="-18" y="-7.5" width="36" height="15"/><text y="3">0.948</text></g>
<g transform="translate(777 1138) rotate(55)"><rect x="-18" y="-7.5" width="36" height="15"/><text y="3">0.091</text></g>
<g transform="translate(710 933) rotate(70)"><rect x="-11" y="-7.5" width="22" height="15"/><text y="3">1</text></g>
<g transform="translate(628 878) rotate(68)"><rect x="-21" y="-7.5" width="42" height="15"/><text y="3">37.947</text></g>
</g>
</g>

<g id="nodes">
<g id="overseas"><ellipse class="e" cx="630" cy="701" rx="142" ry="89"/><text class="ec" font-size="22"><tspan x="630" y="676">Overseas</tspan><tspan x="630" y="710">cultivation for</tspan><tspan x="630" y="743">I.R.IRAN</tspan></text></g>
<g id="fsd"><ellipse class="e" cx="673" cy="1045" rx="84" ry="65"/><text class="ec" font-size="19"><tspan x="673" y="1025">Food</tspan><tspan x="673" y="1053">security</tspan><tspan x="673" y="1080">developmen</tspan></text></g>
<g id="political"><ellipse class="e" cx="326" cy="253" rx="58" ry="28"/><text class="es" font-size="13"><tspan x="326" y="247">Political</tspan><tspan x="326" y="263">Requirements</tspan></text></g>
<g id="economical"><ellipse class="e" cx="970" cy="241" rx="58" ry="29"/><text class="ec" font-size="12" x="970" y="245">Economical</text></g>
<g id="cultural"><ellipse class="e" cx="302" cy="568" rx="51" ry="31"/><text class="es" font-size="11.5"><tspan x="302" y="565">Cultural</tspan><tspan x="302" y="579">Requirement</tspan></text></g>
<g id="expertise"><ellipse class="e" cx="975" cy="497" rx="50" ry="28"/><text class="es" font-size="10.5"><tspan x="975" y="492">Experise</tspan><tspan x="975" y="505">Requirements</tspan></text></g>
<g id="availability"><ellipse class="e" cx="360" cy="935" rx="64" ry="35"/><text class="es"><tspan x="360" y="932">Food Security</tspan><tspan x="360" y="948">Availability</tspan></text></g>
<g id="sustainability"><ellipse class="e" cx="890" cy="875" rx="64" ry="35"/><text class="es"><tspan x="890" y="869">FoodSecurity</tspan><tspan x="890" y="887">Sustainability</tspan></text></g>
<g id="accessibility"><ellipse class="e" cx="477" cy="1246" rx="65" ry="36"/><text class="es"><tspan x="477" y="1242">Food Security</tspan><tspan x="477" y="1260">Accessibility</tspan></text></g>
<g id="utilization"><ellipse class="e" cx="893" cy="1240" rx="63" ry="37"/><text class="es"><tspan x="893" y="1238">Food Security</tspan><tspan x="893" y="1255">Utilization</tspan></text></g>

<g id="PO9"><rect class="b" x="99" y="107" width="79" height="28"/><text class="bt" x="138.5" y="119">PO9</text></g>
<g id="PO8"><rect class="b" x="99" y="143" width="79" height="28"/><text class="bt" x="138.5" y="155">PO8</text></g>
<g id="PO7"><rect class="b" x="99" y="180" width="79" height="28"/><text class="bt" x="138.5" y="192">PO7</text></g>
<g id="PO6"><rect class="b" x="99" y="216" width="79" height="28"/><text class="bt" x="138.5" y="228">PO6</text></g>
<g id="PO5"><rect class="b" x="99" y="252" width="79" height="28"/><text class="bt" x="138.5" y="264">PO5</text></g>
<g id="PO4"><rect class="b" x="99" y="289" width="79" height="28"/><text class="bt" x="138.5" y="301">PO4</text></g>
<g id="PO3"><rect class="b" x="99" y="326" width="79" height="28"/><text class="bt" x="138.5" y="338">PO3</text></g>
<g id="PO2"><rect class="b" x="99" y="363" width="79" height="28"/><text class="bt" x="138.5" y="375">PO2</text></g>
<g id="PO1"><rect class="b" x="99" y="401" width="79" height="28"/><text class="bt" x="138.5" y="413">PO1</text></g>
<g id="PO10"><rect class="b" x="188" y="107" width="79" height="28"/><text class="bt" x="227.5" y="119">PO10</text></g>
<g id="PO11"><rect class="b" x="275" y="107" width="78" height="28"/><text class="bt" x="314" y="119">PO11</text></g>
<g id="PO12"><rect class="b" x="362" y="107" width="78" height="28"/><text class="bt" x="401" y="119">PO12</text></g>
<g id="PO13"><rect class="b" x="449" y="107" width="78" height="28"/><text class="bt" x="488" y="119">PO13</text></g>
<g id="PO14"><rect class="b" x="474" y="144" width="78" height="28"/><text class="bt" x="513" y="156">PO14</text></g>
<g id="PO15"><rect class="b" x="474" y="178" width="78" height="28"/><text class="bt" x="513" y="190">PO15</text></g>
<g id="PO16"><rect class="b" x="474" y="215" width="78" height="28"/><text class="bt" x="513" y="227">PO16</text></g>
<g id="PO17"><rect class="b" x="474" y="249" width="78" height="28"/><text class="bt" x="513" y="261">PO17</text></g>
<g id="PO18"><rect class="b" x="474" y="285" width="78" height="28"/><text class="bt" x="513" y="297">PO18</text></g>
<g id="PO19"><rect class="b" x="474" y="323" width="78" height="28"/><text class="bt" x="513" y="335">PO19</text></g>

<g id="EC6"><rect class="b" x="753" y="110" width="78" height="28"/><text class="bt" x="792" y="122">EC6</text></g>
<g id="EC5"><rect class="b" x="753" y="150" width="78" height="28"/><text class="bt" x="792" y="162">EC5</text></g>
<g id="EC4"><rect class="b" x="753" y="187" width="78" height="28"/><text class="bt" x="792" y="199">EC4</text></g>
<g id="EC3"><rect class="b" x="753" y="224" width="78" height="28"/><text class="bt" x="792" y="236">EC3</text></g>
<g id="EC2"><rect class="b" x="753" y="260" width="78" height="28"/><text class="bt" x="792" y="272">EC2</text></g>
<g id="EC1"><rect class="b" x="753" y="295" width="78" height="28"/><text class="bt" x="792" y="307">EC1</text></g>
<g id="EC7"><rect class="b" x="838" y="112" width="78" height="29"/><text class="bt" x="877" y="124">EC7</text></g>
<g id="EC8"><rect class="b" x="927" y="112" width="77" height="29"/><text class="bt" x="965.5" y="124">EC8</text></g>
<g id="EC9"><rect class="b" x="1014" y="112" width="78" height="29"/><text class="bt" x="1053" y="124">EC9</text></g>
<g id="EC10"><rect class="b" x="1102" y="111" width="77" height="26"/><text class="bt" x="1140.5" y="123">EC10</text></g>
<g id="EC11"><rect class="b" x="1102" y="147" width="77" height="26"/><text class="bt" x="1140.5" y="159">EC11</text></g>
<g id="EC12"><rect class="b" x="1102" y="183" width="77" height="26"/><text class="bt" x="1140.5" y="195">EC12</text></g>
<g id="EC13"><rect class="b" x="1102" y="219" width="77" height="26"/><text class="bt" x="1140.5" y="231">EC13</text></g>
<g id="EC14"><rect class="b" x="1102" y="254" width="77" height="26"/><text class="bt" x="1140.5" y="266">EC14</text></g>
<g id="EC15"><rect class="b" x="1102" y="291" width="77" height="26"/><text class="bt" x="1140.5" y="303">EC15</text></g>
<g id="EC16"><rect class="b" x="1102" y="327" width="77" height="26"/><text class="bt" x="1140.5" y="339">EC16</text></g>

<g id="EX1"><rect class="b" x="1110" y="364" width="63" height="26"/><text class="bt" x="1141.5" y="376">EX1</text></g>
<g id="EX2"><rect class="b" x="1110" y="400" width="63" height="26"/><text class="bt" x="1141.5" y="412">EX2</text></g>
<g id="EX3"><rect class="b" x="1110" y="437" width="63" height="26"/><text class="bt" x="1141.5" y="449">EX3</text></g>
<g id="EX4"><rect class="b" x="1110" y="473" width="63" height="26"/><text class="bt" x="1141.5" y="485">EX4</text></g>
<g id="EX5"><rect class="b" x="1110" y="508" width="63" height="26"/><text class="bt" x="1141.5" y="520">EX5</text></g>
<g id="EX6"><rect class="b" x="1110" y="545" width="63" height="26"/><text class="bt" x="1141.5" y="557">EX6</text></g>
<g id="EX7"><rect class="b" x="1110" y="580" width="63" height="26"/><text class="bt" x="1141.5" y="592">EX7</text></g>
<g id="EX10"><rect class="b" x="910" y="400" width="58" height="27"/><text class="bt" x="939" y="412">EX10</text></g>
<g id="EX11"><rect class="b" x="977" y="400" width="59" height="27"/><text class="bt" x="1006.5" y="412">EX11</text></g>
<g id="EX9"><rect class="b" x="914" y="561" width="59" height="26"/><text class="bt" x="943.5" y="573">EX9</text></g>
<g id="EX8"><rect class="b" x="983" y="561" width="58" height="26"/><text class="bt" x="1012" y="573">EX8</text></g>

<g id="CU8"><rect class="b" x="105" y="447" width="70" height="27"/><text class="bt" x="140" y="459">CU8</text></g>
<g id="CU7"><rect class="b" x="105" y="484" width="70" height="27"/><text class="bt" x="140" y="496">CU7</text></g>
<g id="CU6"><rect class="b" x="105" y="522" width="70" height="27"/><text class="bt" x="140" y="534">CU6</text></g>
<g id="CU5"><rect class="b" x="105" y="559" width="70" height="27"/><text class="bt" x="140" y="571">CU5</text></g>
<g id="CU4"><rect class="b" x="105" y="599" width="70" height="27"/><text class="bt" x="140" y="611">CU4</text></g>
<g id="CU3"><rect class="b" x="105" y="638" width="70" height="27"/><text class="bt" x="140" y="650">CU3</text></g>
<g id="CU9"><rect class="b" x="239" y="474" width="59" height="25"/><text class="bt" x="268.5" y="486">CU9</text></g>
<g id="CU10"><rect class="b" x="307" y="474" width="59" height="25"/><text class="bt" x="336.5" y="486">CU10</text></g>
<g id="CU2"><rect class="b" x="243" y="633" width="59" height="26"/><text class="bt" x="272.5" y="645">CU2</text></g>
<g id="CU1"><rect class="b" x="311" y="633" width="58" height="26"/><text class="bt" x="340" y="645">CU1</text></g>

<g id="FSAV14"><rect class="b" x="96" y="686" width="87" height="28"/><text class="bt" x="139.5" y="698">FSAV14</text></g>
<g id="FSAV13"><rect class="b" x="96" y="724" width="87" height="28"/><text class="bt" x="139.5" y="736">FSAV13</text></g>
<g id="FSAV12"><rect class="b" x="96" y="763" width="87" height="28"/><text class="bt" x="139.5" y="775">FSAV12</text></g>
<g id="FSAV11"><rect class="b" x="96" y="801" width="87" height="28"/><text class="bt" x="139.5" y="813">FSAV11</text></g>
<g id="FSAV10"><rect class="b" x="96" y="839" width="87" height="28"/><text class="bt" x="139.5" y="851">FSAV10</text></g>
<g id="FSAV9"><rect class="b" x="96" y="878" width="87" height="28"/><text class="bt" x="139.5" y="890">FSAV9</text></g>
<g id="FSAV8"><rect class="b" x="96" y="916" width="87" height="28"/><text class="bt" x="139.5" y="928">FSAV8</text></g>
<g id="FSAV7"><rect class="b" x="96" y="954" width="87" height="28"/><text class="bt" x="139.5" y="966">FSAV7</text></g>
<g id="FSAV6"><rect class="b" x="96" y="992" width="87" height="28"/><text class="bt" x="139.5" y="1004">FSAV6</text></g>
<g id="FSAV5"><rect class="b" x="96" y="1031" width="87" height="28"/><text class="bt" x="139.5" y="1043">FSAV5</text></g>
<g id="FSAV4"><rect class="b" x="96" y="1069" width="87" height="28"/><text class="bt" x="139.5" y="1081">FSAV4</text></g>
<g id="FSAV3"><rect class="b" x="96" y="1107" width="87" height="28"/><text class="bt" x="139.5" y="1119">FSAV3</text></g>
<g id="FSAV2"><rect class="b" x="96" y="1146" width="87" height="28"/><text class="bt" x="139.5" y="1158">FSAV2</text></g>
<g id="FSAV1"><rect class="b" x="96" y="1184" width="87" height="28"/><text class="bt" x="139.5" y="1196">FSAV1</text></g>

<g id="FSS1"><rect class="b" x="1102" y="616" width="78" height="26"/><text class="bt" x="1141" y="627">FSS1</text></g>
<g id="FSS2"><rect class="b" x="1102" y="652" width="78" height="26"/><text class="bt" x="1141" y="663">FSS2</text></g>
<g id="FSS3"><rect class="b" x="1102" y="688" width="78" height="26"/><text class="bt" x="1141" y="699">FSS3</text></g>
<g id="FSS4"><rect class="b" x="1102" y="723" width="78" height="26"/><text class="bt" x="1141" y="734">FSS4</text></g>
<g id="FSS5"><rect class="b" x="1102" y="759" width="78" height="26"/><text class="bt" x="1141" y="770">FSS5</text></g>
<g id="FSS6"><rect class="b" x="1102" y="795" width="78" height="26"/><text class="bt" x="1141" y="806">FSS6</text></g>
<g id="FSS7"><rect class="b" x="1102" y="831" width="78" height="26"/><text class="bt" x="1141" y="842">FSS7</text></g>
<g id="FSS8"><rect class="b" x="1102" y="867" width="78" height="26"/><text class="bt" x="1141" y="878">FSS8</text></g>
<g id="FSS9"><rect class="b" x="1102" y="902" width="78" height="26"/><text class="bt" x="1141" y="913">FSS9</text></g>
<g id="FSS10"><rect class="b" x="1102" y="938" width="78" height="26"/><text class="bt" x="1141" y="949">FSS10</text></g>
<g id="FSS11"><rect class="b" x="1102" y="974" width="78" height="26"/><text class="bt" x="1141" y="985">FSS11</text></g>
<g id="FSS12"><rect class="b" x="1102" y="1010" width="78" height="26"/><text class="bt" x="1141" y="1021">FSS12</text></g>
<g id="FSS13"><rect class="b" x="1102" y="1046" width="78" height="26"/><text class="bt" x="1141" y="1057">FSS13</text></g>
<g id="FSS14"><rect class="b" x="1102" y="1081" width="78" height="26"/><text class="bt" x="1141" y="1092">FSS14</text></g>
<g id="FSS15"><rect class="b" x="1102" y="1117" width="78" height="26"/><text class="bt" x="1141" y="1128">FSS15</text></g>
<g id="FSS16"><rect class="b" x="1102" y="1153" width="78" height="26"/><text class="bt" x="1141" y="1164">FSS16</text></g>
<g id="FSS17"><rect class="b" x="1102" y="1189" width="78" height="26"/><text class="bt" x="1141" y="1200">FSS17</text></g>

<g id="FSAC12"><rect class="b" x="310" y="1141" width="72" height="28"/><text class="bt" x="346" y="1153">FSAC12</text></g>
<g id="FSAC11"><rect class="b" x="310" y="1179" width="72" height="29"/><text class="bt" x="346" y="1191">FSAC11</text></g>
<g id="FSAC10"><rect class="b" x="103" y="1240" width="79" height="28"/><text class="bt" x="142.5" y="1252">FSAC10</text></g>
<g id="FSAC9"><rect class="b" x="103" y="1278" width="79" height="28"/><text class="bt" x="142.5" y="1290">FSAC9</text></g>
<g id="FSAC8"><rect class="b" x="103" y="1316" width="79" height="28"/><text class="bt" x="142.5" y="1328">FSAC8</text></g>
<g id="FSAC7"><rect class="b" x="103" y="1354" width="79" height="28"/><text class="bt" x="142.5" y="1366">FSAC7</text></g>
<g id="FSAC6"><rect class="b" x="192" y="1371" width="64" height="29"/><text class="bt" x="224" y="1383">FSAC6</text></g>
<g id="FSAC5"><rect class="b" x="265" y="1371" width="66" height="29"/><text class="bt" x="298" y="1383">FSAC5</text></g>
<g id="FSAC4"><rect class="b" x="338" y="1371" width="64" height="29"/><text class="bt" x="370" y="1383">FSAC4</text></g>
<g id="FSAC3"><rect class="b" x="412" y="1371" width="64" height="29"/><text class="bt" x="444" y="1383">FSAC3</text></g>
<g id="FSAC2"><rect class="b" x="484" y="1371" width="64" height="29"/><text class="bt" x="516" y="1383">FSAC2</text></g>
<g id="FSAC1"><rect class="b" x="557" y="1371" width="64" height="29"/><text class="bt" x="589" y="1383">FSAC1</text></g>

<g id="FSU1"><rect class="b" x="999" y="1183" width="66" height="31"/><text class="bt" x="1032" y="1196">FSU1</text></g>
<g id="FSU2"><rect class="b" x="1105" y="1231" width="71" height="27"/><text class="bt" x="1140.5" y="1243">FSU2</text></g>
<g id="FSU3"><rect class="b" x="1105" y="1266" width="71" height="27"/><text class="bt" x="1140.5" y="1278">FSU3</text></g>
<g id="FSU4"><rect class="b" x="1105" y="1303" width="71" height="27"/><text class="bt" x="1140.5" y="1315">FSU4</text></g>
<g id="FSU5"><rect class="b" x="1105" y="1337" width="71" height="27"/><text class="bt" x="1140.5" y="1349">FSU5</text></g>
<g id="FSU6"><rect class="b" x="1105" y="1373" width="71" height="27"/><text class="bt" x="1140.5" y="1385">FSU6</text></g>
<g id="FSU7"><rect class="b" x="1105" y="1408" width="71" height="27"/><text class="bt" x="1140.5" y="1420">FSU7</text></g>
<g id="FSU8"><rect class="b" x="1105" y="1440" width="71" height="27"/><text class="bt" x="1140.5" y="1452">FSU8</text></g>
<g id="FSU11"><rect class="b" x="748" y="1380" width="86" height="33"/><text class="bt" x="791" y="1393">FSU11</text></g>
<g id="FSU10"><rect class="b" x="848" y="1380" width="88" height="33"/><text class="bt" x="892" y="1393">FSU10</text></g>
<g id="FSU9"><rect class="b" x="946" y="1379" width="86" height="33"/><text class="bt" x="989" y="1392">FSU9</text></g>

<g id="errors">
<g id="e-PO9"><circle class="c" cx="40" cy="121" r="15"/><text class="ct" x="40" y="123">e3</text></g>
<g id="e-PO8"><circle class="c" cx="40" cy="157" r="15"/><text class="ct" x="40" y="159">e3</text></g>
<g id="e-PO7"><circle class="c" cx="40" cy="194" r="15"/><text class="ct" x="40" y="196">e3</text></g>
<g id="e-PO6"><circle class="c" cx="40" cy="230" r="15"/><text class="ct" x="40" y="232">e3</text></g>
<g id="e-PO5"><circle class="c" cx="40" cy="266" r="15"/><text class="ct" x="40" y="268">e3</text></g>
<g id="e-PO4"><circle class="c" cx="40" cy="303" r="15"/><text class="ct" x="40" y="305">e3</text></g>
<g id="e-PO3"><circle class="c" cx="40" cy="340" r="15"/><text class="ct" x="40" y="342">e3</text></g>
<g id="e-PO2"><circle class="c" cx="40" cy="377" r="15"/><text class="ct" x="40" y="379">e3</text></g>
<g id="e-PO1"><circle class="c" cx="40" cy="415" r="15"/><text class="ct" x="40" y="417">e3</text></g>
<g id="e-PO10"><circle class="c" cx="227" cy="46" r="15"/><text class="ct" x="227" y="48">e3</text></g>
<g id="e-PO11"><circle class="c" cx="314" cy="46" r="15"/><text class="ct" x="314" y="48">e3</text></g>
<g id="e-PO12"><circle class="c" cx="401" cy="46" r="15"/><text class="ct" x="401" y="48">e3</text></g>
<g id="e-PO13"><circle class="c" cx="488" cy="46" r="15"/><text class="ct" x="488" y="48">e3</text></g>
<g id="e-PO14"><circle class="c" cx="613" cy="158" r="15"/><text class="ct" x="613" y="160">e3</text></g>
<g id="e-PO15"><circle class="c" cx="613" cy="192" r="15"/><text class="ct" x="613" y="194">e3</text></g>
<g id="e-PO16"><circle class="c" cx="613" cy="229" r="15"/><text class="ct" x="613" y="231">e3</text></g>
<g id="e-PO17"><circle class="c" cx="613" cy="263" r="15"/><text class="ct" x="613" y="265">e3</text></g>
<g id="e-PO18"><circle class="c" cx="613" cy="299" r="15"/><text class="ct" x="613" y="301">e3</text></g>
<g id="e-PO19"><circle class="c" cx="613" cy="337" r="15"/><text class="ct" x="613" y="339">e3</text></g>
<g id="e-political"><circle class="c" cx="326" cy="357" r="17"/><text class="ct" x="326" y="359">e3</text></g>
<g id="e-EC6"><circle class="c" cx="694" cy="125" r="15"/><text class="ct" x="694" y="127">e20</text></g>
<g id="e-EC5"><circle class="c" cx="694" cy="165" r="15"/><text class="ct" x="694" y="167">e3</text></g>
<g id="e-EC4"><circle class="c" cx="694" cy="202" r="15"/><text class="ct" x="694" y="204">e3</text></g>
<g id="e-EC3"><circle class="c" cx="694" cy="239" r="15"/><text class="ct" x="694" y="241">e3</text></g>
<g id="e-EC2"><circle class="c" cx="694" cy="275" r="15"/><text class="ct" x="694" y="277">e3</text></g>
<g id="e-EC1"><circle class="c" cx="694" cy="310" r="15"/><text class="ct" x="694" y="312">e3</text></g>
<g id="e-EC7"><circle class="c" cx="879" cy="52" r="15"/><text class="ct" x="879" y="54">e3</text></g>
<g id="e-EC8"><circle class="c" cx="967" cy="53" r="15"/><text class="ct" x="967" y="55">e3</text></g>
<g id="e-EC9"><circle class="c" cx="1053" cy="53" r="15"/><text class="ct" x="1053" y="55">e3</text></g>
<g id="e-EC10"><circle class="c" cx="1237" cy="122" r="15"/><text class="ct" x="1237" y="124">e3</text></g>
<g id="e-EC11"><circle class="c" cx="1237" cy="158" r="15"/><text class="ct" x="1237" y="160">e3</text></g>
<g id="e-EC12"><circle class="c" cx="1237" cy="194" r="15"/><text class="ct" x="1237" y="196">e3</text></g>
<g id="e-EC13"><circle class="c" cx="1237" cy="230" r="15"/><text class="ct" x="1237" y="232">e3</text></g>
<g id="e-EC14"><circle class="c" cx="1237" cy="265" r="15"/><text class="ct" x="1237" y="267">e3</text></g>
<g id="e-EC15"><circle class="c" cx="1237" cy="302" r="15"/><text class="ct" x="1237" y="304">e3</text></g>
<g id="e-EC16"><circle class="c" cx="1237" cy="338" r="15"/><text class="ct" x="1237" y="340">e3</text></g>
<g id="e-economical"><circle class="c" cx="838" cy="375" r="17"/><text class="ct" x="838" y="377">e3</text></g>
<g id="e-EX1"><circle class="c" cx="1249" cy="377" r="14"/><text class="ct" x="1249" y="379">e3</text></g>
<g id="e-EX2"><circle class="c" cx="1249" cy="413" r="14"/><text class="ct" x="1249" y="415">e3</text></g>
<g id="e-EX3"><circle class="c" cx="1249" cy="450" r="14"/><text class="ct" x="1249" y="452">e3</text></g>
<g id="e-EX4"><circle class="c" cx="1249" cy="486" r="14"/><text class="ct" x="1249" y="488">e3</text></g>
<g id="e-EX5"><circle class="c" cx="1249" cy="521" r="14"/><text class="ct" x="1249" y="523">e3</text></g>
<g id="e-EX6"><circle class="c" cx="1249" cy="558" r="14"/><text class="ct" x="1249" y="560">e3</text></g>
<g id="e-EX7"><circle class="c" cx="1249" cy="593" r="14"/><text class="ct" x="1249" y="595">e3</text></g>
<g id="e-EX10"><circle class="c" cx="947" cy="347" r="14"/><text class="ct" x="947" y="349">e3</text></g>
<g id="e-EX11"><circle class="c" cx="1001" cy="347" r="14"/><text class="ct" x="1001" y="349">e3</text></g>
<g id="e-EX9"><circle class="c" cx="947" cy="640" r="14"/><text class="ct" x="947" y="642">e3</text></g>
<g id="e-EX8"><circle class="c" cx="1004" cy="640" r="14"/><text class="ct" x="1004" y="642">e3</text></g>
<g id="e-expertise"><circle class="c" cx="877" cy="462" r="15"/><text class="ct" x="877" y="464">e3</text></g>
<g id="e-CU8"><circle class="c" cx="43" cy="459" r="15"/><text class="ct" x="43" y="461">e3</text></g>
<g id="e-CU7"><circle class="c" cx="43" cy="496" r="15"/><text class="ct" x="43" y="498">e3</text></g>
<g id="e-CU6"><circle class="c" cx="43" cy="534" r="15"/><text class="ct" x="43" y="536">e3</text></g>
<g id="e-CU5"><circle class="c" cx="43" cy="571" r="15"/><text class="ct" x="43" y="573">e3</text></g>
<g id="e-CU4"><circle class="c" cx="43" cy="611" r="15"/><text class="ct" x="43" y="613">e3</text></g>
<g id="e-CU3"><circle class="c" cx="43" cy="650" r="15"/><text class="ct" x="43" y="652">e3</text></g>
<g id="e-CU9"><circle class="c" cx="274" cy="418" r="14"/><text class="ct" x="274" y="420">e3</text></g>
<g id="e-CU10"><circle class="c" cx="330" cy="418" r="14"/><text class="ct" x="330" y="420">e3</text></g>
<g id="e-CU2"><circle class="c" cx="277" cy="713" r="14"/><text class="ct" x="277" y="715">e3</text></g>
<g id="e-CU1"><circle class="c" cx="334" cy="713" r="14"/><text class="ct" x="334" y="715">e3</text></g>
<g id="e-cultural"><circle class="c" cx="411" cy="545" r="18"/><text class="ct" x="411" y="547">e3</text></g>
<g id="e-FSAV14"><circle class="c" cx="37" cy="700" r="15"/><text class="ct" x="37" y="702">e3</text></g>
<g id="e-FSAV13"><circle class="c" cx="37" cy="738" r="15"/><text class="ct" x="37" y="740">e3</text></g>
<g id="e-FSAV12"><circle class="c" cx="37" cy="777" r="15"/><text class="ct" x="37" y="779">e3</text></g>
<g id="e-FSAV11"><circle class="c" cx="37" cy="815" r="15"/><text class="ct" x="37" y="817">e3</text></g>
<g id="e-FSAV10"><circle class="c" cx="37" cy="853" r="15"/><text class="ct" x="37" y="855">e3</text></g>
<g id="e-FSAV9"><circle class="c" cx="37" cy="892" r="15"/><text class="ct" x="37" y="894">e3</text></g>
<g id="e-FSAV8"><circle class="c" cx="37" cy="930" r="15"/><text class="ct" x="37" y="932">e3</text></g>
<g id="e-FSAV7"><circle class="c" cx="37" cy="968" r="15"/><text class="ct" x="37" y="970">e3</text></g>
<g id="e-FSAV6"><circle class="c" cx="37" cy="1006" r="15"/><text class="ct" x="37" y="1008">e3</text></g>
<g id="e-FSAV5"><circle class="c" cx="37" cy="1045" r="15"/><text class="ct" x="37" y="1047">e3</text></g>
<g id="e-FSAV4"><circle class="c" cx="37" cy="1083" r="15"/><text class="ct" x="37" y="1085">e3</text></g>
<g id="e-FSAV3"><circle class="c" cx="37" cy="1121" r="15"/><text class="ct" x="37" y="1123">e3</text></g>
<g id="e-FSAV2"><circle class="c" cx="37" cy="1160" r="15"/><text class="ct" x="37" y="1162">e3</text></g>
<g id="e-FSAV1"><circle class="c" cx="37" cy="1198" r="15"/><text class="ct" x="37" y="1200">e3</text></g>
<g id="e-availability"><circle class="c" cx="360" cy="823" r="18"/><text class="ct" x="360" y="825">e3</text></g>
<g id="e-FSS1"><circle class="c" cx="1237" cy="629" r="15"/><text class="ct" x="1237" y="631">e3</text></g>
<g id="e-FSS2"><circle class="c" cx="1237" cy="665" r="15"/><text class="ct" x="1237" y="667">e3</text></g>
<g id="e-FSS3"><circle class="c" cx="1237" cy="701" r="15"/><text class="ct" x="1237" y="703">e3</text></g>
<g id="e-FSS4"><circle class="c" cx="1237" cy="736" r="15"/><text class="ct" x="1237" y="738">e3</text></g>
<g id="e-FSS5"><circle class="c" cx="1237" cy="772" r="15"/><text class="ct" x="1237" y="774">e3</text></g>
<g id="e-FSS6"><circle class="c" cx="1237" cy="808" r="15"/><text class="ct" x="1237" y="810">e3</text></g>
<g id="e-FSS7"><circle class="c" cx="1237" cy="844" r="15"/><text class="ct" x="1237" y="846">e3</text></g>
<g id="e-FSS8"><circle class="c" cx="1237" cy="880" r="15"/><text class="ct" x="1237" y="882">e3</text></g>
<g id="e-FSS9"><circle class="c" cx="1237" cy="915" r="15"/><text class="ct" x="1237" y="917">e3</text></g>
<g id="e-FSS10"><circle class="c" cx="1237" cy="951" r="15"/><text class="ct" x="1237" y="953">e3</text></g>
<g id="e-FSS11"><circle class="c" cx="1237" cy="987" r="15"/><text class="ct" x="1237" y="989">e3</text></g>
<g id="e-FSS12"><circle class="c" cx="1237" cy="1023" r="15"/><text class="ct" x="1237" y="1025">e3</text></g>
<g id="e-FSS13"><circle class="c" cx="1237" cy="1059" r="15"/><text class="ct" x="1237" y="1061">e3</text></g>
<g id="e-FSS14"><circle class="c" cx="1237" cy="1094" r="15"/><text class="ct" x="1237" y="1096">e3</text></g>
<g id="e-FSS15"><circle class="c" cx="1237" cy="1130" r="15"/><text class="ct" x="1237" y="1132">e3</text></g>
<g id="e-FSS16"><circle class="c" cx="1237" cy="1166" r="15"/><text class="ct" x="1237" y="1168">e3</text></g>
<g id="e-FSS17"><circle class="c" cx="1237" cy="1202" r="15"/><text class="ct" x="1237" y="1204">e3</text></g>
<g id="e-sustainability"><circle class="c" cx="892" cy="768" r="17"/><text class="ct" x="892" y="770">e3</text></g>
<g id="e-FSAC12"><circle class="c" cx="258" cy="1156" r="13"/><text class="ct" x="258" y="1158">e3</text></g>
<g id="e-FSAC11"><circle class="c" cx="258" cy="1193" r="13"/><text class="ct" x="258" y="1195">e3</text></g>
<g id="e-FSAC10"><circle class="c" cx="44" cy="1254" r="15"/><text class="ct" x="44" y="1256">e3</text></g>
<g id="e-FSAC9"><circle class="c" cx="44" cy="1292" r="15"/><text class="ct" x="44" y="1294">e3</text></g>
<g id="e-FSAC8"><circle class="c" cx="44" cy="1330" r="15"/><text class="ct" x="44" y="1332">e3</text></g>
<g id="e-FSAC7"><circle class="c" cx="44" cy="1368" r="15"/><text class="ct" x="44" y="1370">e3</text></g>
<g id="e-FSAC6"><circle class="c" cx="224" cy="1459" r="15"/><text class="ct" x="224" y="1461">e3</text></g>
<g id="e-FSAC5"><circle class="c" cx="298" cy="1459" r="15"/><text class="ct" x="298" y="1461">e3</text></g>
<g id="e-FSAC4"><circle class="c" cx="370" cy="1459" r="15"/><text class="ct" x="370" y="1461">e3</text></g>
<g id="e-FSAC3"><circle class="c" cx="444" cy="1459" r="15"/><text class="ct" x="444" y="1461">e3</text></g>
<g id="e-FSAC2"><circle class="c" cx="516" cy="1459" r="15"/><text class="ct" x="516" y="1461">e3</text></g>
<g id="e-FSAC1"><circle class="c" cx="589" cy="1459" r="15"/><text class="ct" x="589" y="1461">e3</text></g>
<g id="e-accessibility"><circle class="c" cx="477" cy="1137" r="19"/><text class="ct" x="477" y="1139">e3</text></g>
<g id="e-FSU1"><circle class="c" cx="955" cy="1145" r="14"/><text class="ct" x="955" y="1147">e3</text></g>
<g id="e-FSU2"><circle class="c" cx="1234" cy="1244" r="15"/><text class="ct" x="1234" y="1246">e3</text></g>
<g id="e-FSU3"><circle class="c" cx="1234" cy="1279" r="15"/><text class="ct" x="1234" y="1281">e3</text></g>
<g id="e-FSU4"><circle class="c" cx="1234" cy="1313" r="15"/><text class="ct" x="1234" y="1315">e3</text></g>
<g id="e-FSU5"><circle class="c" cx="1234" cy="1347" r="15"/><text class="ct" x="1234" y="1349">e3</text></g>
<g id="e-FSU6"><circle class="c" cx="1234" cy="1382" r="15"/><text class="ct" x="1234" y="1384">e3</text></g>
<g id="e-FSU7"><circle class="c" cx="1234" cy="1417" r="15"/><text class="ct" x="1234" y="1419">e3</text></g>
<g id="e-FSU8"><circle class="c" cx="1234" cy="1452" r="15"/><text class="ct" x="1234" y="1454">e3</text></g>
<g id="e-FSU11"><circle class="c" cx="792" cy="1470" r="15"/><text class="ct" x="792" y="1472">e3</text></g>
<g id="e-FSU10"><circle class="c" cx="890" cy="1472" r="15"/><text class="ct" x="890" y="1474">e3</text></g>
<g id="e-FSU9"><circle class="c" cx="989" cy="1470" r="15"/><text class="ct" x="989" y="1472">e3</text></g>
<g id="e-utilization"><circle class="c" cx="892" cy="1127" r="18"/><text class="ct" x="892" y="1129">e3</text></g>
<g id="e-fsd"><circle class="c" cx="708" cy="868" r="18"/><text class="ct" x="708" y="870">e3</text></g>
</g>
</g>
</svg>
